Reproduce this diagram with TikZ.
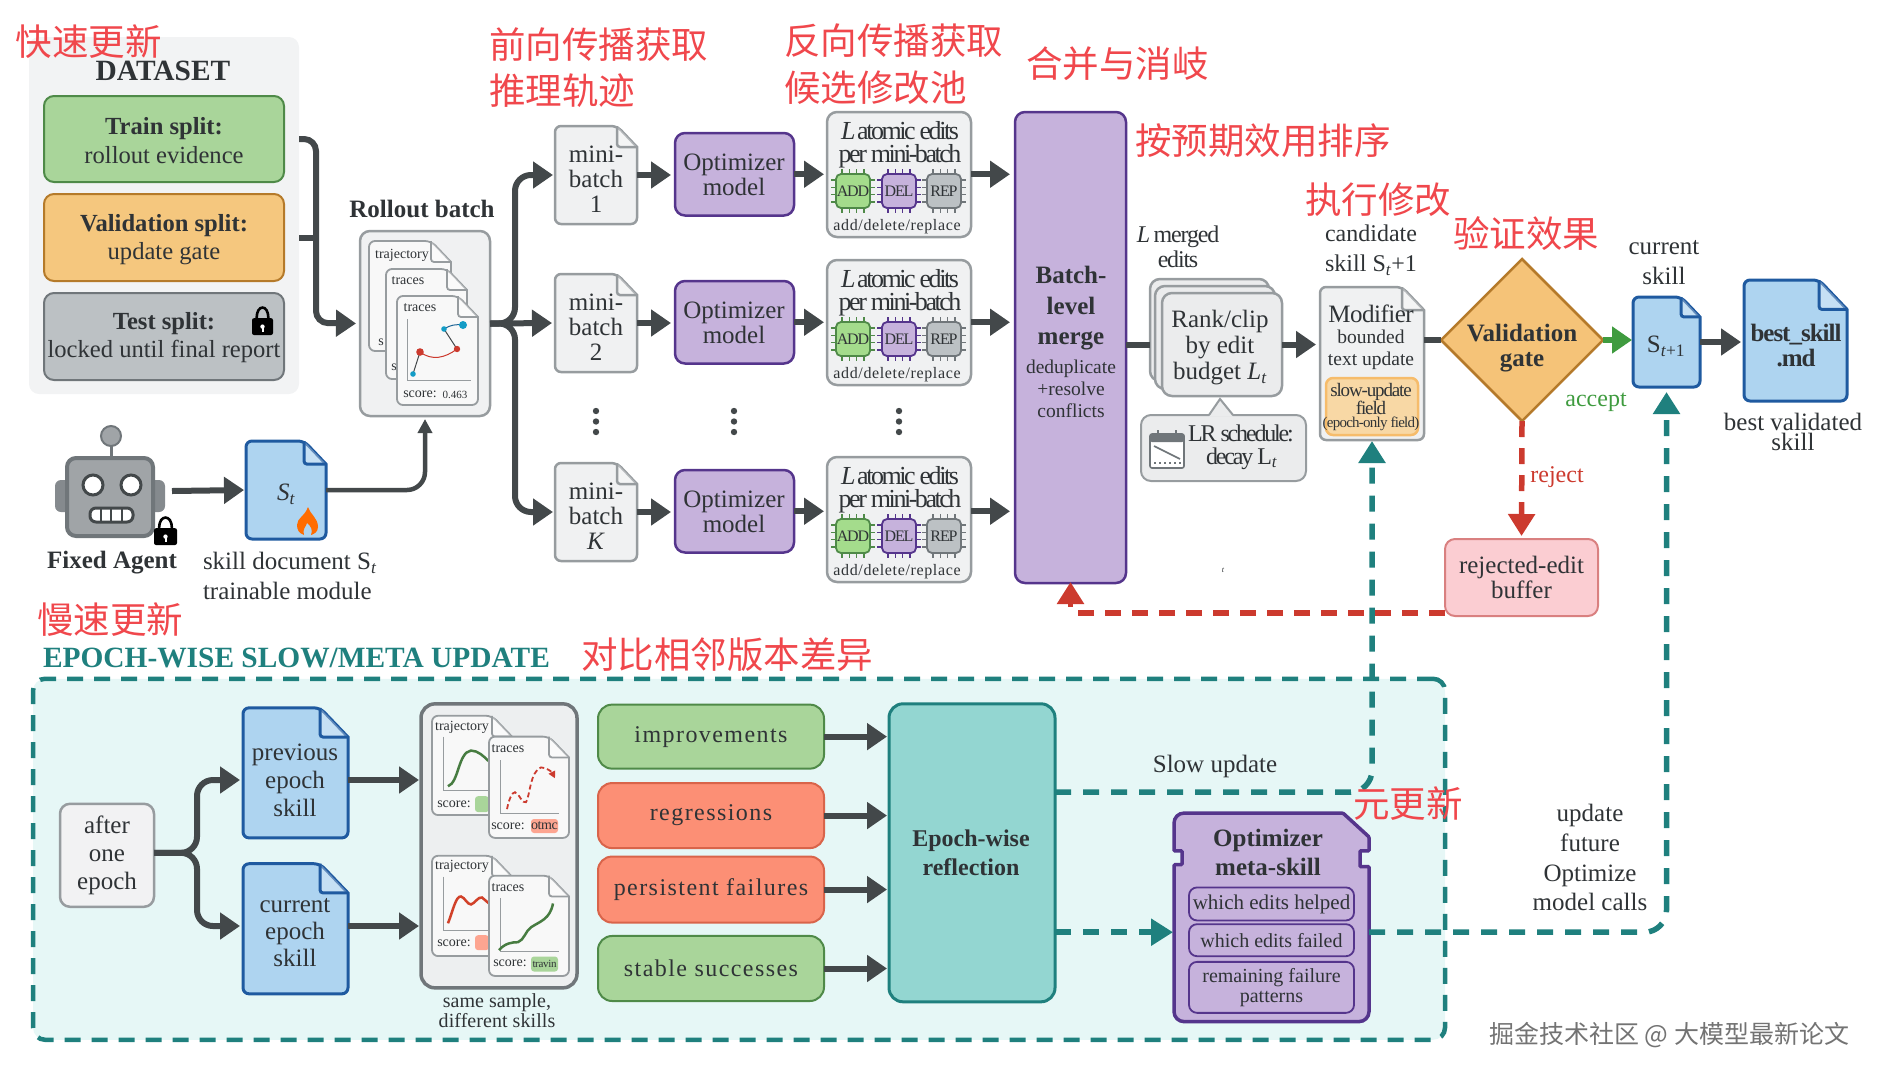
\documentclass[tikz,border=0pt]{standalone}
\usepackage{fontspec}
\setmainfont{Liberation Serif}
\newfontfamily\cjk{Noto Sans CJK SC}
\usetikzlibrary{arrows.meta,shapes.geometric}
\definecolor{ink}{HTML}{2F3336}
\definecolor{arrowgray}{HTML}{43484A}
\definecolor{anno}{HTML}{F0474C}
\definecolor{teal}{HTML}{1F807E}
\definecolor{tealfill}{HTML}{E6F7F6}
\definecolor{tealbox}{HTML}{93D6D1}
\definecolor{grn}{HTML}{A9D59A}
\definecolor{chipgrn}{HTML}{A4DC8C}
\definecolor{grnd}{HTML}{4F8A48}
\definecolor{org}{HTML}{F5C77E}
\definecolor{orgd}{HTML}{B57A2A}
\definecolor{gry}{HTML}{BCC1C4}
\definecolor{gryd}{HTML}{70767A}
\definecolor{pale}{HTML}{F0F1F2}
\definecolor{paled}{HTML}{979C9F}
\definecolor{purp}{HTML}{C6B2DC}
\definecolor{purpd}{HTML}{55358C}
\definecolor{blu}{HTML}{AED4F0}
\definecolor{blud}{HTML}{1F5AA0}
\definecolor{salm}{HTML}{FC8F75}
\definecolor{salmd}{HTML}{D9644A}
\definecolor{rd}{HTML}{CC3A2E}
\definecolor{gate}{HTML}{3F9B3F}
\definecolor{bufferfill}{HTML}{FBCDD2}
\definecolor{bufferdraw}{HTML}{D98080}
\newcommand{\myfs}[2]{\fontsize{#1}{#2}\selectfont}
\newcommand{\tight}[1]{\addfontfeature{LetterSpace=#1}}
\tikzset{
 boxb/.style={inner sep=0,outer sep=0,align=center,text=ink,rounded corners=10,line width=2,font=\myfs{25}{30}},
 txt/.style={inner sep=0,outer sep=0,align=center,text=ink,font=\myfs{25}{30}},
 anno/.style={inner sep=0,outer sep=0,anchor=west,text=anno,font=\cjk\myfs{36.5}{44}},
 ln/.style={line width=6,draw=arrowgray},
 ar/.style={line width=6,draw=arrowgray,-{Triangle[length=20pt,width=26pt]}},
 tealdash/.style={line width=5.5,draw=teal,dash pattern=on 16pt off 12pt,-{Triangle[length=22pt,width=26pt]}},
 reddash/.style={line width=5.5,draw=rd,dash pattern=on 16pt off 11pt,-{Triangle[length=22pt,width=26pt]}},
 grnbox/.style={boxb,fill=grn,draw=grnd},
 salmbox/.style={boxb,fill=salm,draw=salmd},
 purpbox/.style={boxb,fill=purp,draw=purpd,line width=2.5},
 panel/.style={boxb,fill=pale,draw=paled,line width=2.5},
 bludoc/.style={fill=blu,draw=blud,line width=3},
 paledoc/.style={fill=pale,draw=paled,line width=2.5},
 thindoc/.style={fill=white!50!pale,draw=paled,line width=1.8},
 small/.style={txt,font=\myfs{14}{16}},
 curveg/.style={line width=2.5,draw=grnd!90!black},
 curver/.style={line width=2.5,draw=rd!90!orange},
}
\newcommand{\boxn}[6][]{\node[boxb,#1,minimum width={#4-#2},minimum height={#5-#3}] (#6) at ({(#2+#4)/2},{(#3+#5)/2})}
\newcommand{\docshape}[9]{%
 \pgfmathsetmacro{\dxa}{#6-#8}\pgfmathsetmacro{\dyb}{#5+#8*1.05}%
 \path[#1,rounded corners=6] (#4,{(#5+#7)/2}) -- (#4,#5) -- (\dxa,#5) [sharp corners] -- (#6,\dyb) [rounded corners=6] -- (#6,#7) -- (#4,#7) -- cycle;
 \fill[white,opacity=.3] (\dxa,#5) -- (\dxa,\dyb) -- (#6,\dyb) -- cycle;
 \path[#1,fill=none,rounded corners=3] (\dxa,#5) -- (\dxa,\dyb) -- (#6,\dyb);
 \node[txt,#2,minimum width={#6-#4},minimum height={#7-#5}] (#3) at ({(#4+#6)/2},{(#5+#7)/2}) {#9};}
\newcommand{\chipn}[6]{%
 \foreach \k in {0,1,2,3} {
  \draw[#5,line width=1.2] ({#2+6+\k*7.3},{#3-5}) -- ++(0,44);
  \draw[#5,line width=1.2] ({#2-5},{#3+6+\k*7.3}) -- ++(44,0);}
 \node[boxb,rounded corners=5,fill=#4,draw=#5,line width=1.8,minimum size=34,font=\myfs{16}{18}\tight{-7}] (#1) at ({#2+17},{#3+17}) {#6};}
\newcommand{\lockicon}[4]{%
 \pgfmathsetmacro{\lb}{#2+(#4-#2)*.42}\pgfmathsetmacro{\lxa}{#1+(#3-#1)*.22}\pgfmathsetmacro{\lxb}{#3-(#3-#1)*.22}%
 \draw[black,line width=2.6] (\lxa,\lb) .. controls (\lxa,{#2-2}) and (\lxb,{#2-2}) .. (\lxb,\lb);
 \fill[black,rounded corners=2] (#1,\lb) rectangle (#3,#4);
 \fill[white] ({(#1+#3)/2},{(\lb+#4)/2}) circle (2.2);
 \fill[white] ({(#1+#3)/2-1},{(\lb+#4)/2}) rectangle ++(2,5);}
\begin{document}
\begin{tikzpicture}[x=1pt,y=-1pt]
\useasboundingbox (0,0) rectangle (1878,1077);
% ---------- dataset
\boxn[fill=pale!85!white,draw=none]{29}{37}{299}{394}{dataset}{};
\node[txt,font=\bfseries\myfs{29.4}{30}] (dstitle) at (163,71) {DATASET};
\boxn[grnbox]{44}{96}{284}{182}{train}{};
\node[txt,font=\myfs{24.6}{29}] (traint) at (164,141) {\textbf{Train split:}\\rollout evidence};
\boxn[boxb,fill=org,draw=orgd]{44}{194}{284}{281}{valid}{};
\node[txt,font=\myfs{24.6}{28}] (validt) at (164,239.5) {\textbf{Validation split:}\\update gate};
\boxn[boxb,fill=gry,draw=gryd]{44}{293}{284}{380}{test}{};
\node[txt,font=\myfs{24.6}{28}] (testt) at (164,338) {\textbf{Test split:}\\locked until final report};
\lockicon{252}{306}{273}{335}
% ---------- rollout
\node[txt,font=\bfseries\myfs{25}{30}] (rolllabel) at (422,209) {Rollout batch};
\boxn[panel]{360}{231}{490}{416}{rollout}{};
\docshape{thindoc}{}{card1}{369}{241}{451}{351}{20}{}
\node[small] (c1a) at (402,255) {trajectory};
\node[small] (c1b) at (381,342) {s};
\docshape{thindoc}{}{card2}{386}{269}{467}{379}{20}{}
\node[small] (c2a) at (408,281) {traces};
\node[small] (c2b) at (394,367) {s};
\docshape{thindoc}{}{card3}{397}{296}{478}{405}{20}{}
\node[small] (c3a) at (420,308) {traces};
\draw[paled,line width=1] (407,319) -- (407,380) -- (471,380);
\draw[arrowgray,line width=1] (413,374) -- (420,352);
\draw[rd,line width=1] (420,352) .. controls (432,361) and (445,358) .. (457,349);
\draw[arrowgray,line width=1] (457,349) -- (444,329);
\draw[blud!70!teal,line width=1] (444,329) .. controls (450,325) and (456,324) .. (463,325);
\fill[blud!60!cyan] (413,374) circle (2.8) (444,329) circle (2.8) (463,325) circle (4);
\fill[rd] (420,352) circle (3.8) (457,349) circle (3.2);
\node[small] (c3s) at (420,394) {score:};
\node[small,font=\myfs{11}{12}] (c3v) at (455,395) {0.463};
% ---------- robot
\draw[gryd,line width=3] (111,436) -- (111,458);
\node[circle,fill=gry!85!black,draw=gryd,line width=2,minimum size=20,inner sep=0] (antenna) at (111,436) {};
\fill[gryd!85!white,rounded corners=6] (55,480) rectangle (165,512);
\boxn[fill=gry!85!black,draw=gryd,line width=4,rounded corners=9]{67}{458}{153}{536}{agent}{};
\node[circle,fill=white,draw=arrowgray,line width=3,minimum size=20,inner sep=0] (eyea) at (93,485) {};
\node[circle,fill=white,draw=arrowgray,line width=3,minimum size=20,inner sep=0] (eyeb) at (131,485) {};
\boxn[fill=white,draw=arrowgray,line width=3,rounded corners=6]{90}{508}{133}{522}{mouth}{};
\draw[arrowgray,line width=2.5] (101,508) -- (101,522) (111,508) -- (111,522) (122,508) -- (122,522);
\lockicon{154}{516}{177}{545}
\node[txt,font=\bfseries\myfs{25}{30}] (agentlabel) at (112,563) {Fixed Agent};
\coordinate (agentout) at (172,491);
% ---------- skill St
\docshape{bludoc}{}{sdoc}{246}{441}{326}{539}{22}{}
\node[txt,font=\itshape\myfs{25}{30}] (stext) at (286,494) {S\textsubscript{t}};
\fill[orange!85!red] (308,507) .. controls (310,514) and (318,518) .. (318,527) .. controls (318,532) and (314,534) .. (311,535) .. controls (313,530) and (311,526) .. (307,523) .. controls (306,527) and (302,529) .. (304,535) .. controls (299,533) and (297,530) .. (297,525) .. controls (297,518) and (305,516) .. (308,507) -- cycle;
\node[txt,anchor=west] (sdoca) at (203,563) {skill document S\textsubscript{\textit{t}}};
\node[txt,anchor=west] (sdocb) at (203,591) {trainable module};
% ---------- mini-batches / optimizers / edit panels
\foreach \s/\y/\lab in {1/126/1,2/274/2,K/463/\textit{K}} {
 \docshape{paledoc}{}{mb\s}{555}{\y}{637}{\y+98}{20}{}
 \node[txt,font=\myfs{25}{25}] (mbt\s) at (596,{\y+53}) {mini-\\batch\\\lab};
}
\foreach \s/\y in {1/133,2/281,K/470} {
 \boxn[purpbox]{675}{\y}{794}{\y+82.5}{opt\s}{};
 \node[txt,font=\myfs{25}{24.5}] (optt\s) at (734,{\y+42}) {Optimizer\\model};
}
\foreach \s/\y in {1/112,2/260,K/457} {
 \boxn[panel]{827}{\y}{971}{\y+125}{edit\s}{};
 \node[txt,font=\myfs{26}{26}\tight{-9.5}] (eda\s) at (900,{\y+19}) {\textit{L} atomic edits};
 \node[txt,font=\myfs{26}{26}\tight{-9.5}] (edb\s) at (900,{\y+44}) {per mini-batch};
 \chipn{add\s}{836}{\y+62}{chipgrn}{grnd}{ADD}
 \chipn{del\s}{882}{\y+62}{purp}{purpd}{DEL}
 \chipn{rep\s}{927}{\y+62}{gry}{gryd}{REP}
 \node[txt,font=\myfs{16}{18}\tight{4}] (edc\s) at (897,{\y+114.5}) {add/delete/replace};
}
\foreach \x in {596,734,899} {
 \fill[arrowgray] (\x,411) circle (3.2) (\x,421.5) circle (3.2) (\x,432) circle (3.2);
}
% ---------- merge
\boxn[purpbox]{1015}{112}{1126}{583}{merge}{};
\node[txt,font=\bfseries\myfs{25}{30.5}] (mergea) at (1071,308.5) {Batch-\\level\\merge};
\node[txt,font=\myfs{19.5}{22}] (mergeb) at (1071,388.5) {deduplicate\\+resolve\\conflicts};
% ---------- rank
\node[txt,font=\myfs{24}{25}\tight{-5}] (lmerged) at (1178,247) {\textit{L} merged\\edits};
\boxn[panel,fill=pale!90!gry]{1150}{279}{1269}{381}{rankb}{};
\boxn[panel,fill=pale!90!gry]{1155}{286}{1275}{389}{rankm}{};
\boxn[panel,fill=pale!90!gry]{1162}{293}{1282}{396}{rank}{};
\node[txt,font=\myfs{25}{26}] (ranktext) at (1220,347.5) {Rank/clip\\by edit\\budget \textit{L}\textsubscript{\textit{t}}};
\boxn[panel,fill=pale!90!gry,line width=2]{1141}{415}{1306}{481}{lr}{};
\path[fill=pale!90!gry] (1209,416.5) -- (1220,399) -- (1233,416.5) -- cycle;
\draw[paled,line width=2] (1209,415) -- (1220,399) -- (1233,415);
\node[txt,font=\myfs{24}{23}\tight{-9}] (lrtext) at (1241,447) {LR schedule:\\decay L\textsubscript{\textit{t}}};
\draw[gryd,fill=white,line width=1.6,rounded corners=2] (1150,434) rectangle (1184,468);
\fill[gryd,rounded corners=2] (1150,434) rectangle (1184,442);
\draw[gryd,line width=2] (1158,430) -- (1158,437) (1176,430) -- (1176,437);
\draw[gryd,line width=1.6] (1154,446) -- (1180,459);
\draw[gryd,line width=1.6,dash pattern=on 2pt off 3pt] (1154,463) -- (1181,463);
\node[txt,text=ink,font=\itshape\myfs{8}{9}] (straytee) at (1223,570) {t};
% ---------- candidate
\node[txt,font=\myfs{24}{30}] (candlabel) at (1371,250) {candidate\\skill S\textsubscript{\textit{t}}+1};
\docshape{paledoc}{}{cand}{1320}{287}{1424}{440}{22}{}
\node[txt,font=\myfs{25}{25}\tight{-2}] (cmod) at (1371,314) {Modifier};
\node[txt,font=\myfs{19.5}{22}] (cbound) at (1371,350) {bounded\\text update};
\boxn[fill=org!70!white,draw=org!85!orange,line width=2.5,rounded corners=7]{1326}{378}{1418}{435}{slowfield}{};
\node[txt,font=\myfs{19}{18}\tight{-6}] (cslow) at (1371,399) {slow-update\\field};
\node[txt,font=\myfs{15}{16}\tight{-5}] (cslowb) at (1371,424) {(epoch-only field)};
% ---------- validation
\node[diamond,aspect=1,minimum size=162,inner sep=0,outer sep=0,fill=org!95!orange,draw=orgd,line width=2.5] (diam) at (1522,340) {};
\node[txt,font=\bfseries\myfs{25}{25}] (diamt) at (1522,348.5) {Validation\\gate};
\node[txt,font=\myfs{25}{30}] (curlabel) at (1664,263) {current\\skill};
\docshape{bludoc}{}{stp}{1633}{297}{1700}{387}{19}{}
\node[txt,font=\myfs{25}{25}] (stptext) at (1666,346) {S\textsubscript{\textit{t}+1}};
\docshape{bludoc}{}{best}{1744}{280}{1847}{401}{28}{}
\node[txt,font=\bfseries\myfs{25}{25}\tight{-4}] (besttext) at (1796,345) {best\_skill\\.md};
\node[txt,font=\myfs{25}{20}] (bestlabel) at (1793,432) {best validated\\skill};
\node[txt,text=gate,font=\myfs{24}{26}] (acceptl) at (1596,402) {accept};
\node[txt,text=rd,font=\myfs{24}{26}] (rejectl) at (1557,477) {reject};
\boxn[fill=bufferfill,draw=bufferdraw,font=\myfs{25}{25}]{1445}{539}{1598}{616}{buffer}{rejected-edit\\buffer};
% ---------- epoch block
\begin{scope}[y=-0.993pt,yshift=-1.8pt]
\node[txt,anchor=west,text=teal,font=\bfseries\myfs{29.4}{30}] (epochtitle) at (43,661) {EPOCH-WISE SLOW/META UPDATE};
\boxn[fill=tealfill,draw=teal,line width=4.5,dash pattern=on 16pt off 11pt,rounded corners=12]{33}{683}{1445}{1044}{epochbox}{};
\boxn[panel,fill=pale!90!white,draw=paled,font=\myfs{25}{28}]{60}{808}{154}{911}{after}{after\\one\\epoch};
\docshape{bludoc}{}{prev}{243}{711}{348}{842}{28}{}
\docshape{bludoc}{}{curr}{243}{868}{348}{999}{28}{}
\boxn[panel,fill=pale!95!gry,draw=gryd,line width=3.5,rounded corners=14]{421}{708}{577}{992}{cmp}{};
\docshape{thindoc}{}{a1}{432}{719}{512}{819}{20}{}
\node[small] (a1t) at (462,731) {trajectory};
\draw[paled,line width=1] (443,740) -- (443,794) -- (489,794);
\draw[curveg] (448,790) .. controls (459,786) and (458,756) .. (471,754) .. controls (478,754) and (484,760) .. (489,765);
\node[small] (a1s) at (454,808) {score:};
\fill[grn,rounded corners=3] (475,800) rectangle (489,816);
\docshape{thindoc}{}{a2}{489}{740}{569}{842}{20}{}
\node[small] (a2t) at (508,752) {traces};
\draw[paled,line width=1] (500,764) -- (500,817) -- (559,817);
\draw[rd,line width=1.8,dash pattern=on 5pt off 3pt,-{Triangle[length=7pt,width=7pt]}] (507,813) .. controls (509,803) and (512,796) .. (515,796) .. controls (520,798) and (522,808) .. (526,806) .. controls (530,800) and (530,775) .. (541,771) .. controls (547,771) and (552,776) .. (555,782);
\node[small] (a2s) at (508,830) {score:};
\node[boxb,fill=salm!80!white,draw=none,rounded corners=3,minimum width=27,minimum height=14,font=\myfs{14}{15}\tight{-3}] (otmc) at (544.5,830) {otmc};
\docshape{thindoc}{}{b1}{432}{860}{512}{961}{20}{}
\node[small] (b1t) at (462,871) {trajectory};
\draw[paled,line width=1] (443,881) -- (443,935) -- (489,935);
\draw[curver] (448,928) .. controls (453,915) and (456,900) .. (461,901) .. controls (465,902) and (467,909) .. (471,909) .. controls (475,908) and (478,901) .. (482,902) -- (489,908);
\node[small] (b1s) at (454,948) {score:};
\fill[salm!80!white,rounded corners=3] (475,940) rectangle (489,955);
\docshape{thindoc}{}{b2}{489}{880}{569}{981}{20}{}
\node[small] (b2t) at (508,892) {traces};
\draw[paled,line width=1] (500,903) -- (500,956) -- (559,956);
\draw[curveg] (499,955) .. controls (505,948) and (512,947) .. (518,947) .. controls (524,945) and (526,935) .. (531,932) .. controls (540,926) and (550,924) .. (553,908);
\node[small] (b2s) at (510,968) {score:};
\node[boxb,fill=grn,draw=none,rounded corners=3,minimum width=27,minimum height=15,font=\myfs{11}{12}\tight{-3}] (travin) at (544.5,969) {travin};
\node[txt,font=\myfs{20}{20}\tight{.3}] (cmplabel) at (497,1016) {same sample,\\different skills};
\boxn[grnbox,rounded corners=14,font=\myfs{24}{26}\tight{6}]{598}{708}{824}{772}{improv}{improvements};
\boxn[salmbox,rounded corners=14,font=\myfs{24}{26}\tight{6}]{598}{787}{824}{852}{regr}{regressions};
\boxn[salmbox,rounded corners=14,font=\myfs{24}{26}\tight{6}]{598}{861}{824}{927}{persist}{\raisebox{-3pt}{persistent failures}};
\boxn[grnbox,rounded corners=14,font=\myfs{24}{26}\tight{6}]{598}{941}{824}{1006}{stable}{\raisebox{-2pt}{stable successes}};
\boxn[fill=tealbox,draw=teal,line width=3,rounded corners=14]{889}{708}{1055}{1006}{refl}{};
\node[txt,font=\bfseries\myfs{24}{29}] (refltext) at (971,857) {Epoch-wise\\reflection};
\node[txt] (slowl) at (1215,770) {Slow update};
\draw[fill=purp,draw=purpd,line width=3.5,rounded corners=10] (1174,940) -- (1174,1027) -- (1369,1027) [rounded corners=1] -- (1369,871) -- (1360,871) -- (1360,855) -- (1369,855) -- (1369,841) -- (1343,817) [rounded corners=10] -- (1174,817) [rounded corners=1] -- (1174,855) -- (1182,855) -- (1182,869) -- (1174,869) -- cycle;
\node[inner sep=0,outer sep=0,minimum width=195,minimum height=210] (meta) at (1271.5,922) {};
\node[txt,font=\bfseries\myfs{25}{29}] (metatitle) at (1268,857) {Optimizer\\meta-skill};
\boxn[fill=purp,draw=purpd,line width=1.8,rounded corners=8,font=\myfs{21}{22}]{1189}{892}{1354}{925}{mh}{which edits helped};
\boxn[fill=purp,draw=purpd,line width=1.8,rounded corners=8,font=\myfs{20}{22}]{1189}{929}{1354}{961}{mf}{which edits failed};
\boxn[fill=purp,draw=purpd,line width=1.8,rounded corners=8,font=\myfs{20}{20}]{1189}{967}{1354}{1018}{mr}{remaining failure\\patterns};
\node[txt,font=\myfs{25}{29.6}] (futurel) at (1590,862) {update\\future\\Optimize\\model calls};
\end{scope}
\node[txt,font=\myfs{25}{28}] (prevt) at (295,780) {previous\\epoch\\skill};
\node[txt,font=\myfs{25}{27}] (currt) at (295,933) {current\\epoch\\skill};
% ---------- connectors
\coordinate (dsjoin) at (316,323);
\draw[ar,rounded corners=12,shorten >=4] (dataset.east |- train.east) -| (dsjoin) -- (rollout.west);
\draw[ln,rounded corners=12] (dataset.east |- valid.east) -- (dsjoin |- valid.east);
\draw[ar,shorten >=2] (agentout) -- (sdoc.west);
\draw[ar,line width=4.5,rounded corners=18,-{Triangle[length=14pt,width=14pt]},shorten >=3] (sdoc.east) -| (rollout.south);
\coordinate (rfork) at (515,323.5);
\draw[ar,rounded corners=16,shorten >=2] (rollout.east) -- (rfork) |- (mb1.west);
\draw[ar,shorten >=3] (rollout.east) -- (mb2.west);
\draw[ar,rounded corners=16,shorten >=2] (rollout.east) -- (rfork) |- (mbK.west);
\foreach \s in {1,2,K} {
 \draw[ar,shorten >=4] (mb\s.east) -- (opt\s.west |- mb\s.east);
 \draw[ar,shorten >=3] (opt\s.east) -- (edit\s.west |- opt\s.east);
 \draw[ar,shorten >=5] (edit\s.east |- opt\s.east) -- (merge.west |- opt\s.east);
}
\draw[ln] (merge.east |- rank.west) -- (rankb.west |- rank.west);
\draw[ar,shorten >=4] (rank.east) -- (cand.west |- rank.east);
\draw[ln] (cand.east |- diam.west) -- (diam.west);
\draw[ar,draw=gate,shorten >=1] (diam.east) -- (stp.west |- diam.east);
\draw[ar,shorten >=3] (stp.east) -- (best.west |- stp.east);
\coordinate (efork) at (197,852.8);
\coordinate (pa) at (243,780);
\coordinate (ca) at (243,926);
\draw[ar,rounded corners=16,shorten >=3] (after.east |- efork) -- (efork) |- (pa);
\draw[ar,rounded corners=16,shorten >=3] (after.east |- efork) -- (efork) |- (ca);
\draw[ar,shorten >=2] (prev.east |- pa) -- (cmp.west |- pa);
\draw[ar,shorten >=2] (curr.east |- ca) -- (cmp.west |- ca);
\draw[ar,shorten >=2] (improv.east) -- (refl.west |- improv.east);
\draw[ar,shorten >=2] (regr.east) -- (refl.west |- regr.east);
\draw[ar,shorten >=2] (persist.east) -- (refl.west |- persist.east);
\draw[ar,shorten >=2] (stable.east) -- (refl.west |- stable.east);
\coordinate (slowout) at (1055,792.2);
\coordinate (reflout) at (1055,932.2);
\coordinate (metaout) at (1369,932.2);
\draw[tealdash,rounded corners=22,shorten >=1] (slowout) -| (cand.south);
\draw[tealdash,shorten >=1] (reflout) -- (meta.west |- reflout);
\draw[tealdash,rounded corners=22,shorten >=5] (metaout) -| (stp.south);
\draw[reddash,shorten >=3] (diam.south) -- (buffer.north);
\coordinate (bufout) at (1445,613);
\draw[reddash,rounded corners=6,shorten >=-1] (bufout) -| (merge.south);
% ---------- annotations
\node[anno] (n1) at (16,42) {快速更新};
\node[anno] (n2) at (489,45) {前向传播获取};
\node[anno] (n3) at (489,91) {推理轨迹};
\node[anno] (n4) at (784,41) {反向传播获取};
\node[anno] (n5) at (784,88) {候选修改池};
\node[anno] (n6) at (1026,64) {合并与消岐};
\node[anno] (n7) at (1135,141) {按预期效用排序};
\node[anno] (n8) at (1305,200) {执行修改};
\node[anno] (n9) at (1453,234) {验证效果};
\node[anno] (n10) at (37,620) {慢速更新};
\node[anno] (n11) at (581,655) {对比相邻版本差异};
\node[anno] (n12) at (1353,804) {元更新};
\node[inner sep=0,anchor=west,text=gray!90!black,font=\cjk\myfs{25}{28}] (wm) at (1489,1035) {掘金技术社区 @ 大模型最新论文};
\end{tikzpicture}
\end{document}
